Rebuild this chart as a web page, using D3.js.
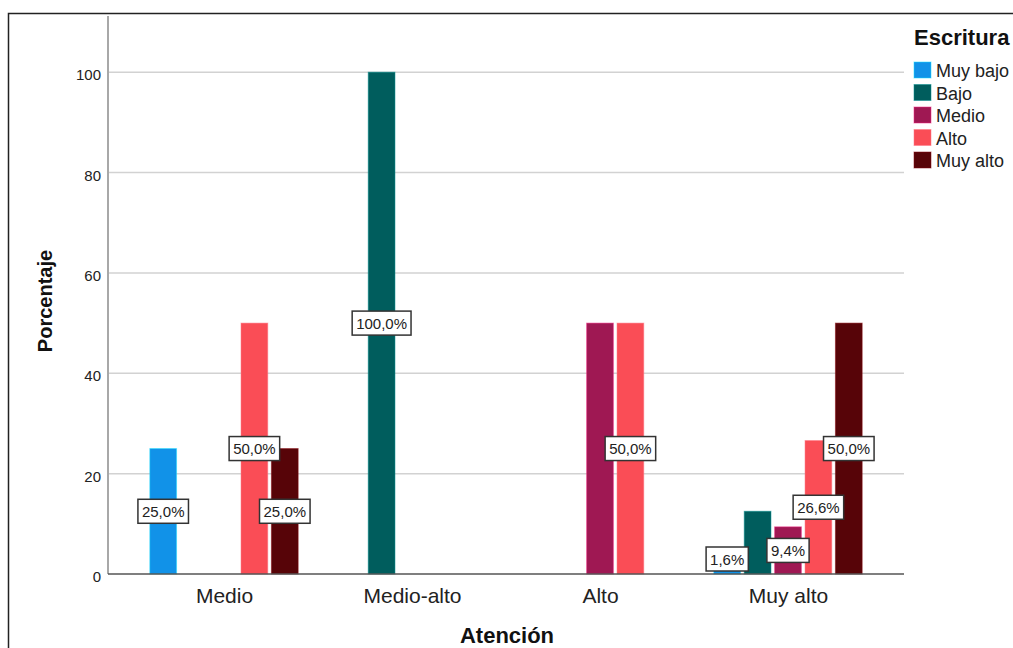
<!DOCTYPE html>
<html>
<head>
<meta charset="utf-8">
<script src="https://cdn.jsdelivr.net/npm/d3@7"></script>
<style>
  html, body { margin: 0; padding: 0; background: #fff; }
  svg { display: block; font-family: "Liberation Sans", Arial, sans-serif; }
</style>
</head>
<body>
<svg id="chart" width="1013" height="648"></svg>
<script>
// ---- Data ----
const categories = ["Medio", "Medio-alto", "Alto", "Muy alto"];
const seriesNames = ["Muy bajo", "Bajo", "Medio", "Alto", "Muy alto"];
const seriesColors = ["#1192e8", "#005d5d", "#9f1853", "#fa4d56", "#570408"];
const valuesMuyBajo = [25.0, 0, 0, 1.6];
const valuesBajo    = [0, 100.0, 0, 12.5];
const valuesMedio   = [0, 0, 50.0, 9.4];
const valuesAlto    = [50.0, 0, 50.0, 26.6];
const valuesMuyAlto = [25.0, 0, 0, 50.0];
// which bars carry a value label in the reference
const labelMuyBajo = [true, false, false, true];
const labelBajo    = [false, true, false, false];
const labelMedio   = [false, false, false, true];
const labelAlto    = [true, false, true, true];
const labelMuyAlto = [true, false, false, true];
const yTicks = [0, 20, 40, 60, 80, 100];
const yMax = 111.2;

const seriesValues = [valuesMuyBajo, valuesBajo, valuesMedio, valuesAlto, valuesMuyAlto];
const seriesLabels = [labelMuyBajo, labelBajo, labelMedio, labelAlto, labelMuyAlto];

const svg = d3.select("#chart");

// outer frame
svg.append("rect")
  .attr("x", 8.5).attr("y", 13.5)
  .attr("width", 1200).attr("height", 800)
  .attr("fill", "#fff").attr("stroke", "#222").attr("stroke-width", 1.5);

const plot = { left: 108, right: 904, top: 16, bottom: 574 };

const y = d3.scaleLinear().domain([0, yMax]).range([plot.bottom, plot.top]);
const x0 = d3.scalePoint().domain(categories).range([plot.left, plot.right]).padding(0.617);
const x1 = d3.scaleBand().domain(seriesNames).range([-76, 76]).paddingInner(0.12).paddingOuter(0.06);

// gridlines
svg.append("g").selectAll("line")
  .data(yTicks.filter(t => t > 0))
  .join("line")
  .attr("x1", plot.left).attr("x2", plot.right)
  .attr("y1", d => y(d)).attr("y2", d => y(d))
  .attr("stroke", "#d2d2d2").attr("stroke-width", 1.5);

// y axis
const yAxis = d3.axisLeft(y).tickValues(yTicks).tickSize(0).tickPadding(7);
const gy = svg.append("g").attr("transform", `translate(${plot.left},0)`).call(yAxis);
gy.select(".domain").remove();
gy.selectAll("text")
  .attr("font-size", 15).attr("fill", "#222")
  .attr("font-family", "Liberation Sans, Arial, sans-serif")
  .attr("dy", "0.5em");
svg.append("line")
  .attr("x1", plot.left).attr("x2", plot.left)
  .attr("y1", plot.top).attr("y2", plot.bottom)
  .attr("stroke", "#a8a8a8").attr("stroke-width", 2);

// bars
const barData = [];
seriesNames.forEach((s, si) => {
  categories.forEach((c, ci) => {
    barData.push({ series: s, cat: c, value: seriesValues[si][ci], color: seriesColors[si], label: seriesLabels[si][ci] });
  });
});

svg.append("g").selectAll("rect")
  .data(barData.filter(d => d.value > 0))
  .join("rect")
  .attr("x", d => x0(d.cat) + x1(d.series))
  .attr("width", x1.bandwidth())
  .attr("y", d => y(d.value))
  .attr("height", d => y(0) - y(d.value))
  .attr("fill", d => d.color)
  .attr("stroke", d => d3.color(d.color).brighter(1.2))
  .attr("stroke-opacity", 0.5)
  .attr("stroke-width", 1);

// x axis
const xAxis = d3.axisBottom(x0).tickSize(0).tickPadding(14);
const gx = svg.append("g").attr("transform", `translate(0,${plot.bottom})`).call(xAxis);
gx.select(".domain").remove();
gx.selectAll("text")
  .attr("font-size", 21).attr("fill", "#222")
  .attr("font-family", "Liberation Sans, Arial, sans-serif");
svg.append("line")
  .attr("x1", plot.left).attr("x2", plot.right)
  .attr("y1", plot.bottom).attr("y2", plot.bottom)
  .attr("stroke", "#555").attr("stroke-width", 1.5);

// value labels
const fmt = v => d3.format(".1f")(v).replace(".", ",") + "%";
const boxH = 24;
const labels = svg.append("g").selectAll("g")
  .data(barData.filter(d => d.label))
  .join("g")
  .attr("transform", d => {
    const cx = x0(d.cat) + x1(d.series) + x1.bandwidth() / 2;
    let cy = y(d.value / 2);
    cy = Math.min(cy, y(0) - boxH / 2 - 3);
    return `translate(${cx},${cy})`;
  });
labels.each(function(d) {
  const g = d3.select(this);
  const t = g.append("text")
    .attr("text-anchor", "middle")
    .attr("dy", "0.37em")
    .attr("font-size", 15)
    .attr("fill", "#222")
    .text(fmt(d.value));
  const w = t.node().getComputedTextLength() + 8;
  g.insert("rect", "text")
    .attr("x", -w / 2).attr("y", -boxH / 2)
    .attr("width", w).attr("height", boxH)
    .attr("fill", "#fff").attr("stroke", "#333").attr("stroke-width", 1.5);
});

// axis titles
svg.append("text")
  .attr("x", (plot.left + plot.right) / 2 + 1).attr("y", 643)
  .attr("text-anchor", "middle")
  .attr("font-size", 22).attr("font-weight", "bold").attr("fill", "#111")
  .text("Atención");
svg.append("text")
  .attr("transform", "translate(52,301) rotate(-90)")
  .attr("text-anchor", "middle")
  .attr("font-size", 20).attr("font-weight", "bold").attr("fill", "#111")
  .text("Porcentaje");

// legend
const lg = svg.append("g");
lg.append("text")
  .attr("x", 914).attr("y", 45)
  .attr("font-size", 22).attr("font-weight", "bold").attr("fill", "#111")
  .text("Escritura");
const li = lg.selectAll("g.item")
  .data(seriesNames)
  .join("g").attr("class", "item")
  .attr("transform", (d, i) => `translate(914,${62 + i * 22.5})`);
li.append("rect")
  .attr("width", 17).attr("height", 16)
  .attr("fill", (d, i) => seriesColors[i])
  .attr("stroke", (d, i) => d3.color(seriesColors[i]).brighter(1.2))
  .attr("stroke-opacity", 0.5);
li.append("text")
  .attr("x", 22).attr("y", 15)
  .attr("font-size", 18).attr("fill", "#222")
  .text(d => d);
</script>
</body>
</html>
